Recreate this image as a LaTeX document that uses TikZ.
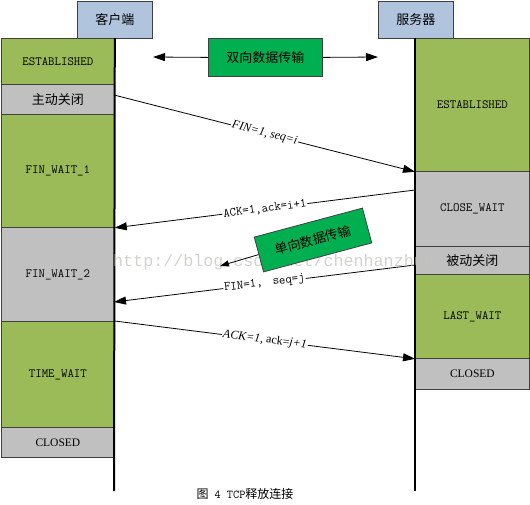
\documentclass[tikz,border=0pt]{standalone}
\usepackage{fontspec}
\setmainfont{Liberation Serif}
\newfontfamily\cjk{Noto Sans CJK SC}
\newfontfamily\wmfont{Liberation Mono}
\usetikzlibrary{arrows.meta}
\definecolor{stgreen}{HTML}{9BBB59}
\definecolor{stgray}{HTML}{C0C0C0}
\definecolor{hdblue}{HTML}{B0C4DE}
\definecolor{dkgreen}{HTML}{00B050}
\definecolor{bord}{HTML}{404040}
\definecolor{wmark}{HTML}{C4C4BC}
\begin{document}
\begin{tikzpicture}[x=1pt,y=-1pt,
  box/.style={draw=bord, line width=0.8pt, anchor=north west, inner sep=0pt, minimum width=113pt},
  sbox/.style={box, minimum width=114pt},
  greenfill/.style={fill=stgreen},
  grayfill/.style={fill=stgray},
  hdr/.style={draw=bord, line width=0.8pt, fill=hdblue, anchor=north west, minimum width=75pt, minimum height=37pt, inner sep=0pt, font=\cjk\fontsize{13}{13}\selectfont},
  stlabel/.style={font=\ttfamily\fontsize{12.5}{13}\selectfont},
  cllabel/.style={font=\fontsize{11.5}{12}\selectfont},
  cjklabel/.style={font=\cjk\fontsize{13}{13}\selectfont},
  msg/.style={-{Triangle[length=12pt,width=8pt]}, line width=0.8pt},
  smallmsg/.style={-{Triangle[length=9pt,width=6pt]}, line width=0.8pt},
  msglabel/.style={sloped, fill=white, inner sep=1pt, pos=0.5},
  itlabel/.style={msglabel, font=\itshape\fontsize{12}{12}\selectfont},
  monolabel/.style={msglabel, font=\ttfamily\fontsize{12.5}{13}\selectfont},
  serlabel/.style={msglabel, font=\fontsize{12}{12}\selectfont},
  lifeline/.style={line width=2pt},
  dgbox/.style={draw=bord, line width=0.8pt, fill=dkgreen, inner sep=0pt, cjklabel}]
\useasboundingbox (0,0) rectangle (530,504);
% headers
\node[hdr] (chdr) at (77,1) {客户端};
\node[hdr] (shdr) at (378,1) {服务器};
% client states
\node[box, greenfill, minimum height=46pt, stlabel] (cEst) at (1,38) {ESTABLISHED};
\node[box, grayfill, minimum height=30pt, cjklabel] (cAct) at (1,84) {主动关闭};
\node[box, greenfill, minimum height=113pt, stlabel] (cFw1) at (1,114) {FIN\_WAIT\_1};
\node[box, grayfill, minimum height=94pt, stlabel] (cFw2) at (1,227) {FIN\_WAIT\_2};
\node[box, greenfill, minimum height=106pt, stlabel] (cTw) at (1,321) {TIME\_WAIT};
\node[box, grayfill, minimum height=30pt, cllabel] (cCl) at (1,427) {CLOSED};
% server states
\node[sbox, greenfill, minimum height=133pt, stlabel] (sEst) at (415,38) {ESTABLISHED};
\node[sbox, grayfill, minimum height=75pt, stlabel] (sCw) at (415,171) {CLOSE\_WAIT};
\node[sbox, grayfill, minimum height=28pt, cjklabel] (sPas) at (415,246) {被动关闭};
\node[sbox, greenfill, minimum height=84pt, stlabel] (sLw) at (415,274) {LAST\_WAIT};
\node[sbox, grayfill, minimum height=31pt, cllabel] (sCl) at (415,358) {CLOSED};
% lifelines
\coordinate (cEnd) at (114,491);
\coordinate (sEnd) at (415,491);
\draw[lifeline] (cEst.north east) -- (cEnd);
\draw[lifeline] (sEst.north west) -- (sEnd);
% bidirectional
\node[dgbox, anchor=north west, minimum width=114pt, minimum height=38pt] (bi) at (208,38) {双向数据传输};
\coordinate (biL) at (153,57);
\coordinate (biR) at (378,57);
\draw[msg] (bi.west) -- (biL);
\draw[msg] (bi.east) -- (biR);
% messages
\coordinate (m1s) at (114,95);
\coordinate (m2s) at (415,190);
\coordinate (m3s) at (415,265);
\coordinate (m3e) at (114,302);
\draw[msg] (m1s) -- node[itlabel] {FIN=1, seq=i} (sEst.south west);
\draw[msg] (m2s) -- node[monolabel] {ACK=1,ack=i+1} (cFw1.south east);
\draw[msg] (m3s) -- node[monolabel] {FIN=1,\hspace{0.3em} seq=j} (m3e);
\draw[msg] (cTw.north east) -- node[serlabel] {\textit{ACK=1}, ack=\textit{j+1}} (sLw.south west);
% watermark (behind the tilted box)
\node[font=\wmfont\fontsize{16.7}{17}\selectfont, text=wmark, text opacity=0.75, anchor=west, inner sep=0pt] (wm) at (113,262) {http://blog.csdn.net/chenhanzhun};
% unidirectional
\node[dgbox, rotate=15, minimum width=112pt, minimum height=36pt] (uni) at (313,240) {单向数据传输};
\coordinate (uniT) at (220,266);
\draw[smallmsg] (uni.west) -- (uniT);
% caption
\node[font=\fontsize{12}{12}\selectfont, inner sep=0pt] (cap) at (245,494) {{\cjk 图}\ \ {\ttfamily 4 TCP}{\cjk 释放连接}};
\end{tikzpicture}
\end{document}
